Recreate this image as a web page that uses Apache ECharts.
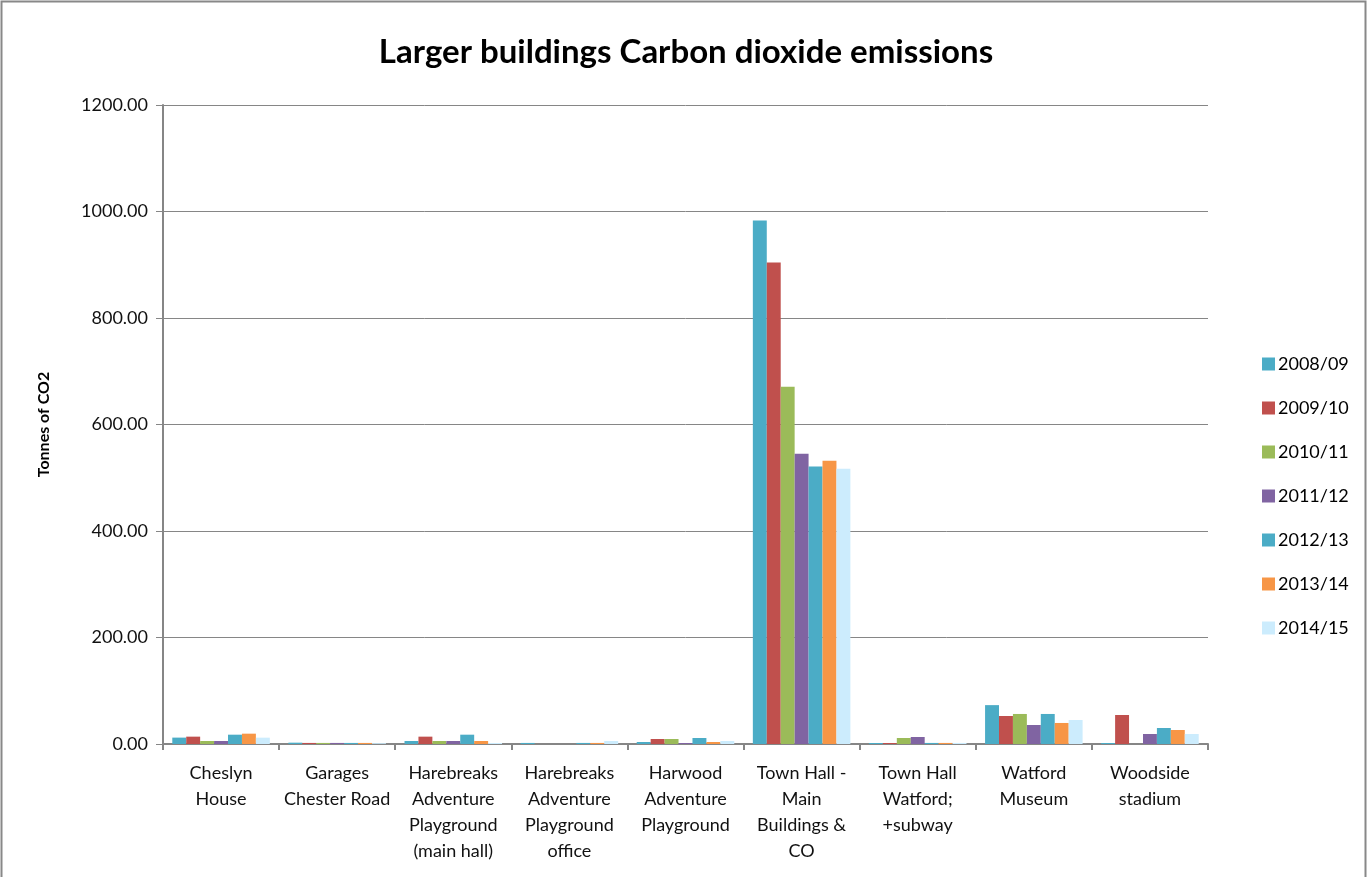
<!DOCTYPE html>
<html>
<head>
<meta charset="utf-8">
<script src="https://cdn.jsdelivr.net/npm/echarts@6/dist/echarts.min.js"></script>
<style>html,body{margin:0;padding:0;background:#fff;}#main{width:1372px;height:877px;}</style>
</head>
<body>
<div id="main"></div>
<script>
const categories = [
  "Cheslyn\nHouse",
  "Garages\nChester Road",
  "Harebreaks\nAdventure\nPlayground\n(main hall)",
  "Harebreaks\nAdventure\nPlayground\noffice",
  "Harwood\nAdventure\nPlayground",
  "Town Hall -\nMain\nBuildings &\nCO",
  "Town Hall\nWatford;\n+subway",
  "Watford\nMuseum",
  "Woodside\nstadium"
];
const seriesNames = ["2008/09","2009/10","2010/11","2011/12","2012/13","2013/14","2014/15"];
const v2008 = [12, 2.5, 5.6, 2, 3.8, 983, 1.9, 73, 1.9];
const v2009 = [13.8, 2, 13.8, 0, 9.4, 904, 1.9, 52.6, 54.5];
const v2010 = [5.6, 2, 5.6, 0, 9.4, 671, 11.3, 56.4, 0];
const v2011 = [5.6, 2, 5.6, 0, 1.9, 545, 13.2, 35.7, 18.8];
const v2012 = [17.5, 2, 17.5, 2, 11.3, 521, 2, 56.4, 30];
const v2013 = [19.4, 2, 5.6, 2, 3.8, 532, 2, 39.5, 26.3];
const v2014 = [11.9, 1.5, 1.9, 5.6, 5.6, 517, 2, 45.1, 18.8];
const yTicks = [0, 200, 400, 600, 800, 1000, 1200];
const colors = ["#4BACC6","#C0504D","#9BBB59","#8064A2","#4BACC6","#F79646","#CCECFD"];
const allValues = [v2008, v2009, v2010, v2011, v2012, v2013, v2014];

const font = "Lato, 'Open Sans', sans-serif";
const chart = echarts.init(document.getElementById('main'));
chart.setOption({
  animation: false,
  color: colors,
  title: {
    text: "Larger buildings Carbon dioxide emissions",
    left: 'center', top: 31,
    textStyle: { fontFamily: font, fontSize: 33, fontWeight: 'bold', color: '#000' }
  },
  graphic: [{
    type: 'rect', shape: { x: 1.5, y: 1.5, width: 1364, height: 900 },
    style: { fill: 'none', stroke: '#888', lineWidth: 2 }, silent: true
  }],
  legend: {
    orient: 'vertical', left: 1257, top: 350,
    itemWidth: 13, itemHeight: 13, itemGap: 26,
    icon: 'rect',
    data: seriesNames,
    textStyle: { fontFamily: font, fontSize: 18, lineHeight: 18, color: '#000', padding: [0,0,0,-2] }
  },
  grid: { left: 163, right: 164, top: 105, bottom: 133, containLabel: false },
  xAxis: {
    type: 'category', data: categories,
    axisLine: { lineStyle: { color: '#868686', width: 2 } },
    axisTick: { show: true, length: 6, lineStyle: { color: '#868686', width: 2 } },
    axisLabel: { interval: 0, fontFamily: font, fontSize: 18, lineHeight: 26, color: '#111', margin: 16 }
  },
  yAxis: {
    type: 'value', min: 0, max: 1200, interval: 200,
    name: 'Tonnes of CO2', nameLocation: 'middle', nameGap: 111,
    nameTextStyle: { fontFamily: font, fontSize: 16, fontWeight: 'bold', color: '#000' },
    axisLine: { show: true, lineStyle: { color: '#868686', width: 2 } },
    axisTick: { show: true, length: 7, lineStyle: { color: '#868686', width: 1 } },
    splitLine: { lineStyle: { color: '#868686', width: 1 } },
    axisLabel: { fontFamily: font, fontSize: 18, color: '#111', margin: 15,
      formatter: v => yTicks.includes(v) ? v.toFixed(2) : '' }
  },
  series: seriesNames.map((n, i) => ({
    name: n, type: 'bar', data: allValues[i],
    barGap: '0%', barCategoryGap: '16%',
    itemStyle: { color: colors[i] }
  }))
});
</script>
</body>
</html>
